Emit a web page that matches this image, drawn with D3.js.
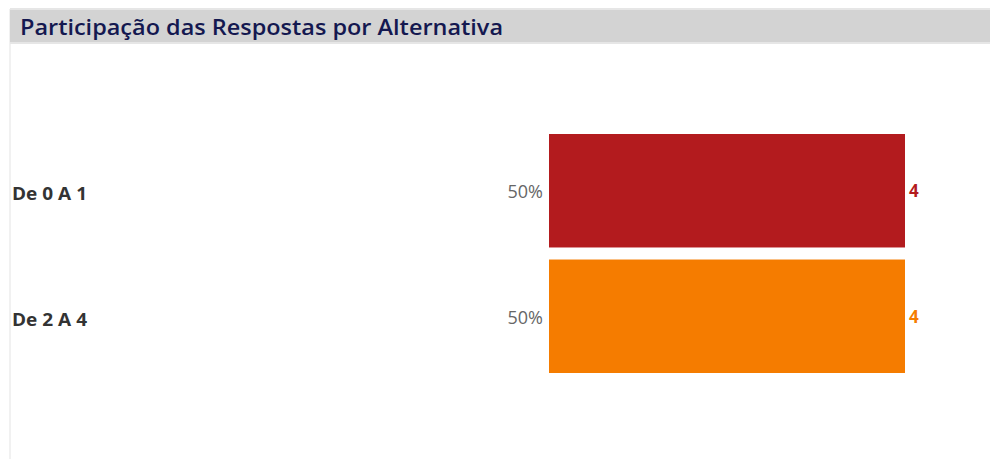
<!DOCTYPE html>
<html>
<head>
<meta charset="utf-8">
<script src="https://cdn.jsdelivr.net/npm/d3@7"></script>
<style>
  body { margin: 0; background: #fff; }
  svg { display: block; font-family: "Open Sans", Lato, sans-serif; }
</style>
</head>
<body>
<svg id="chart"></svg>
<script>
// data
var categories = ["De 0 A 1", "De 2 A 4"];
var counts = [4, 4];
var percents = ["50%", "50%"];
var barColors = ["#b31b1e", "#f57c00"];
var chartTitle = "Participação das Respostas por Alternativa";

var width = 990,
    height = 459;

var svg = d3.select("#chart")
    .attr("width", width)
    .attr("height", height);

// left border of the panel
svg.append("rect")
    .attr("x", 9)
    .attr("y", 9)
    .attr("width", 2)
    .attr("height", height - 9)
    .style("fill", "#f1f1f1");

// header band
svg.append("rect")
    .attr("x", 10)
    .attr("y", 8)
    .attr("width", width - 10)
    .attr("height", 36)
    .style("fill", "#e6e6e6");
svg.append("rect")
    .attr("x", 10)
    .attr("y", 10)
    .attr("width", width - 10)
    .attr("height", 32)
    .style("fill", "#d3d3d3");

// stretch text to the width it has in the picture
function fitWidth(sel, w) {
    sel.attr("textLength", w).attr("lengthAdjust", "spacingAndGlyphs");
}

svg.append("text")
    .attr("x", 20)
    .attr("y", 35)
    .style("font-size", "21px")
    .style("font-weight", "600")
    .style("fill", "#141850")
    .text(chartTitle)
    .call(fitWidth, 483);

var data = categories.map(function (c, i) {
    return { name: c, value: counts[i], pct: percents[i], color: barColors[i] };
});

var x = d3.scaleLinear()
    .domain([0, d3.max(counts)])
    .range([549, 905]);

var y = d3.scaleBand()
    .domain(categories)
    .range([134, 373])
    .paddingInner(0.096)
    .paddingOuter(0);

var rows = svg.selectAll(".row")
    .data(data)
    .enter()
    .append("g")
    .attr("class", "row");

rows.append("rect")
    .attr("class", "bar")
    .attr("x", x(0))
    .attr("y", function (d) { return y(d.name); })
    .attr("width", function (d) { return x(d.value) - x(0); })
    .attr("height", y.bandwidth())
    .style("fill", function (d) { return d.color; });

// category labels at the far left
rows.append("text")
    .attr("x", 12)
    .attr("y", function (d) { return y(d.name) + y.bandwidth() / 2 + 9.5; })
    .style("font-size", "17px")
    .style("font-weight", "bold")
    .style("fill", "#333")
    .text(function (d) { return d.name; })
    .call(fitWidth, 75);

// percentage left of each bar
rows.append("text")
    .attr("x", x(0) - 6)
    .attr("y", function (d) { return y(d.name) + y.bandwidth() / 2 + 7.5; })
    .attr("text-anchor", "end")
    .style("font-size", "18px")
    .style("fill", "#666")
    .text(function (d) { return d.pct; });

// count right of each bar
rows.append("text")
    .attr("x", function (d) { return x(d.value) + 4; })
    .attr("y", function (d) { return y(d.name) + y.bandwidth() / 2 + 6.5; })
    .style("font-size", "17px")
    .style("font-weight", "bold")
    .style("fill", function (d) { return d.color; })
    .text(function (d) { return d.value; });
</script>
</body>
</html>
